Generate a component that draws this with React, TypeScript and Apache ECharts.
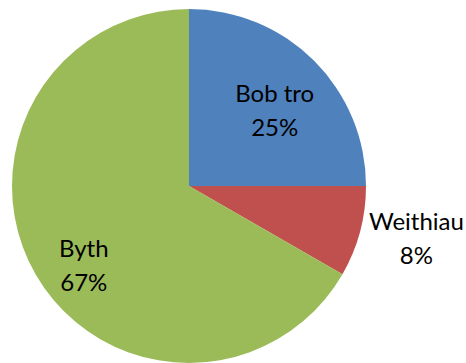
import React, { useEffect, useRef } from "react";
import * as echarts from "echarts";

const categories = ["Bob tro", "Weithiau", "Byth"];
const values = [25, 8.3, 66.7];
const colors = ["#4F81BD", "#C0504D", "#9BBB59"];
const labelShift = [
  [21, -12],
  [139, 28],
  [-26, 33],
];

export default function App() {
  const ref = useRef<HTMLDivElement>(null);
  useEffect(() => {
    if (!ref.current) return;
    const chart = echarts.init(ref.current, null, { renderer: "svg" });
    const total = values.reduce((a, b) => a + b, 0);
    chart.setOption({
      animation: false,
      backgroundColor: "#ffffff",
      series: [
        {
          type: "pie",
          center: [189, 186],
          radius: [0, 177],
          startAngle: 90,
          clockwise: true,
          avoidLabelOverlap: false,
          silent: true,
          data: categories.map((c, i) => ({
            name: c,
            value: values[i],
            itemStyle: { color: colors[i] },
          })),
          label: {
            show: true,
            position: "inside",
            color: "#000000",
            fontFamily: "Lato",
            fontSize: 24,
            lineHeight: 34,
            align: "center",
            formatter: (p: any) => `${p.name}\n${Math.round((p.value / total) * 100)}%`,
          },
          labelLine: { show: false },
          labelLayout: (p: any) => ({
            dx: labelShift[p.dataIndex][0],
            dy: labelShift[p.dataIndex][1],
          }),
        },
      ],
    });
    return () => chart.dispose();
  }, []);
  return (
    <div
      ref={ref}
      style={{ position: "fixed", left: 0, top: 0, width: 466, height: 363 }}
    />
  );
}
